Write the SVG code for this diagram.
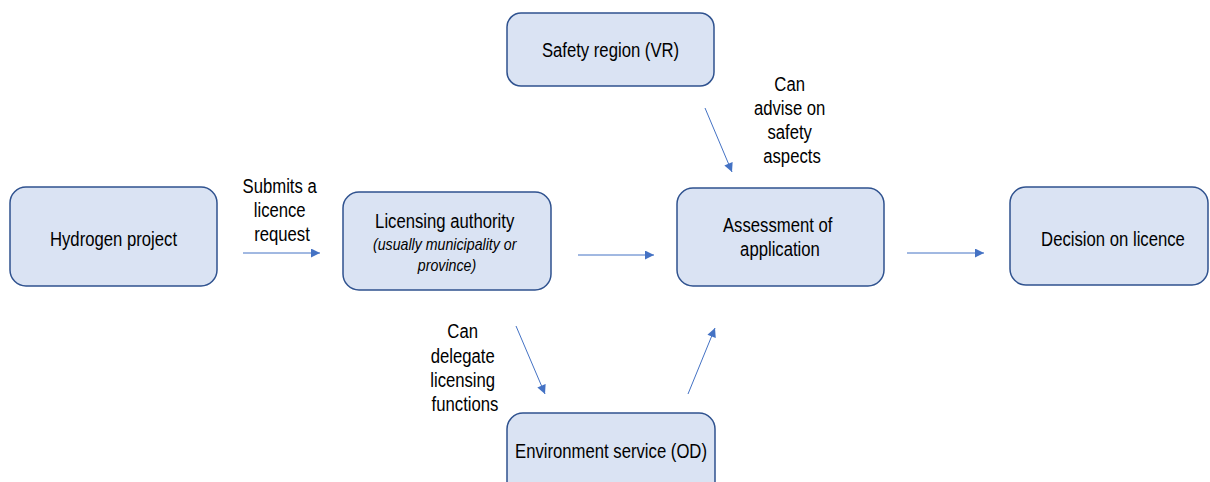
<svg xmlns="http://www.w3.org/2000/svg" width="1210" height="482" viewBox="0 0 1210 482">
  <style>
    .box { fill: #DAE3F3; stroke: #2F528F; stroke-width: 1.5; }
    .t { font-family: "Liberation Sans", Arial, sans-serif; font-size: 20px; fill: #000; text-anchor: middle; }
    .it { font-style: italic; font-size: 17px; }
    .conn line { stroke: #4472C4; stroke-width: 1; fill: none; marker-end: url(#arrow); }
  </style>
  <defs>
    <marker id="arrow" viewBox="0 0 10 10" refX="10" refY="5" markerUnits="userSpaceOnUse" markerWidth="10" markerHeight="9" orient="auto">
      <path d="M0,0 L10,5 L0,10 z" fill="#4472C4"/>
    </marker>
  </defs>

  <rect width="1210" height="482" fill="#FFFFFF"/>

  <!-- connectors and their labels; label text is set narrow via a horizontal scale -->
  <g id="connectors" class="conn">
    <line x1="243" y1="253" x2="320" y2="253"/>
    <line x1="578" y1="255" x2="654" y2="255"/>
    <line x1="907" y1="253" x2="984" y2="253"/>
    <line x1="705" y1="108" x2="732" y2="172"/>
    <line x1="516" y1="326" x2="545" y2="394"/>
    <line x1="688" y1="394" x2="715" y2="328"/>
    <text class="t" transform="matrix(.835 0 0 1 282 0)">
      <tspan x="0" y="193">Submits a</tspan>
      <tspan x="0" y="217">licence</tspan>
      <tspan x="0" y="241">request</tspan>
    </text>
    <text class="t" transform="matrix(.835 0 0 1 792 0)">
      <tspan x="0" y="91">Can</tspan>
      <tspan x="0" y="115">advise on</tspan>
      <tspan x="0" y="139">safety</tspan>
      <tspan x="0" y="163">aspects</tspan>
    </text>
    <text class="t" transform="matrix(.835 0 0 1 465 0)">
      <tspan x="0" y="338">Can</tspan>
      <tspan x="0" y="363">delegate</tspan>
      <tspan x="0" y="387">licensing</tspan>
      <tspan x="0" y="411">functions</tspan>
    </text>
  </g>

  <g id="hydrogen-project">
    <rect class="box" x="10" y="187" width="207" height="99" rx="16"/>
    <text class="t" transform="matrix(.835 0 0 1 113.5 0)" x="0" y="246">Hydrogen project</text>
  </g>

  <g id="licensing-authority">
    <rect class="box" x="343" y="192" width="208" height="98" rx="16"/>
    <text class="t" transform="matrix(.835 0 0 1 447 0)">
      <tspan x="0" y="228">Licensing authority</tspan>
      <tspan class="it" x="0" y="250">(usually municipality or</tspan>
      <tspan class="it" x="0" y="271">province)</tspan>
    </text>
  </g>

  <g id="safety-region">
    <rect class="box" x="507" y="13" width="207" height="73" rx="14"/>
    <text class="t" transform="matrix(.835 0 0 1 610.5 0)" x="0" y="57">Safety region (VR)</text>
  </g>

  <g id="assessment">
    <rect class="box" x="677" y="188" width="207" height="98" rx="16"/>
    <text class="t" transform="matrix(.835 0 0 1 780 0)">
      <tspan x="0" y="232">Assessment of</tspan>
      <tspan x="0" y="256">application</tspan>
    </text>
  </g>

  <g id="decision">
    <rect class="box" x="1010" y="187" width="198" height="98" rx="16"/>
    <text class="t" transform="matrix(.835 0 0 1 1113 0)" x="0" y="246">Decision on licence</text>
  </g>

  <g id="environment-service">
    <rect class="box" x="507" y="413" width="208" height="99" rx="16"/>
    <text class="t" transform="matrix(.835 0 0 1 611 0)" x="0" y="458">Environment service (OD)</text>
  </g>
</svg>
